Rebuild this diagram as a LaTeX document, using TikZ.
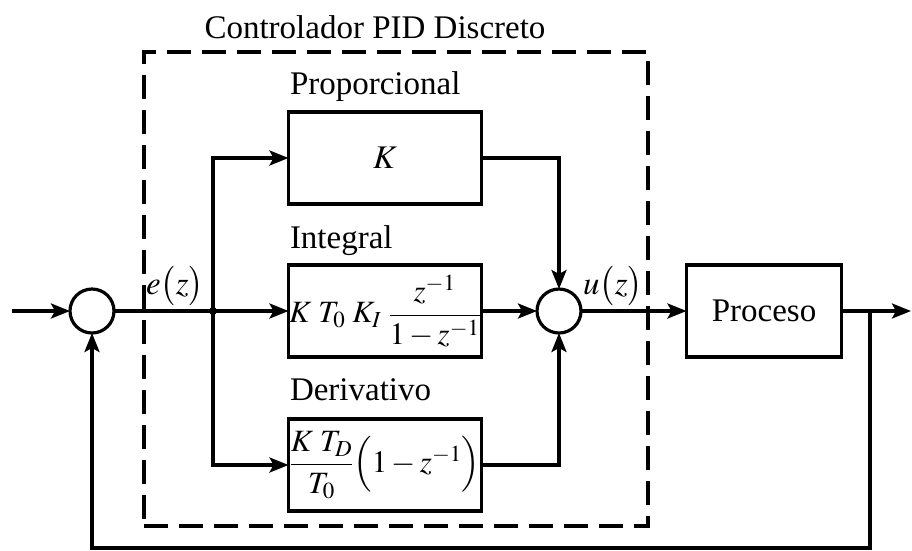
\documentclass[tikz,border=0pt]{standalone}
\usepackage{amsmath}
\usepackage{mathptmx}
\usepackage[no-math]{fontspec}
\setmainfont{Liberation Serif}
\usepackage{tikz}
\usetikzlibrary{arrows.meta,positioning}
\tikzset{
  bloque/.style={rectangle,draw,line width=3.4pt,minimum width=193pt,
    minimum height=92pt,inner sep=0pt,align=center},
  sumador/.style={circle,draw,line width=3.2pt,minimum size=44pt,inner sep=0pt},
  flujo/.style={-{Stealth[length=19pt,width=15pt,inset=4pt]},line width=3.2pt},
  linea/.style={line width=3.2pt},
  etiqueta/.style={anchor=base west,inner sep=0pt},
  formula/.style={font=\fontsize{31}{36}\selectfont}
}

\begin{document}
\begin{tikzpicture}[
  x=1pt,y=-1pt,
  font=\fontsize{33}{38}\selectfont,
  marco/.style={draw,line width=3.4pt,dash pattern=on 24pt off 11pt,
    minimum width=504pt,minimum height=474pt,inner sep=0pt},
  every node/.style={outer sep=0pt}
]
\useasboundingbox (0,0) rectangle (912,550);

% 1. Marco del controlador
\node[marco] (pid) at (396,289) {};
\node[anchor=base,inner sep=0pt] (titulo) at (375,38) {Controlador PID Discreto};

% 2. Bloques P, I, D
\node[bloque] (prop) at (385,158) {$K$};
\node[etiqueta] (lprop) at (290,94) {Proporcional};
\node[bloque,formula] (integ) at (385,311)
  {$K\;T_0\;K_I\;\dfrac{z^{-1}}{1-z^{-1}}$};
\node[etiqueta] (linteg) at (290,248) {Integral};
\node[bloque,formula] (deriv) at (385,465)
  {$\dfrac{K\;T_D}{T_0}\Bigl(1-z^{-1}\Bigr)$};
\node[etiqueta] (lderiv) at (290,400) {Derivativo};

% 3. Sumadores y proceso
\node[sumador] (sumE) at (92,311) {};
\node[sumador] (sumU) at (559,311) {};
\node[bloque,minimum width=155pt] (proceso) at (764,311) {Proceso};

\node (le) at (175,286) {$e\bigl(z\bigr)$};
\node (lu) at (613,286) {$u\bigl(z\bigr)$};

% 4. Conexiones
\coordinate (entrada) at (12,311);
\coordinate (nodoE) at (213,311);
\coordinate (nodoS) at (870,311);
\coordinate (salida) at (911,311);
\coordinate (retorno) at (870,548);

\draw[flujo] (entrada)--(sumE.west);
\draw[linea] (sumE.east)--(nodoE);
\fill (nodoE) circle (4pt);
\draw[flujo] (nodoE)--(integ.west);
\draw[flujo] (nodoE)|-(prop.west);
\draw[flujo] (nodoE)|-(deriv.west);

\draw[flujo] (prop.east)-|(sumU.north);
\draw[flujo] (integ.east)--(sumU.west);
\draw[flujo] (deriv.east)-|(sumU.south);

\draw[flujo] (sumU.east)--(proceso.west);
\draw[flujo] (proceso.east)--(salida);
\draw[flujo] (nodoS)--(retorno)-|(sumE.south);

\end{tikzpicture}
\end{document}
